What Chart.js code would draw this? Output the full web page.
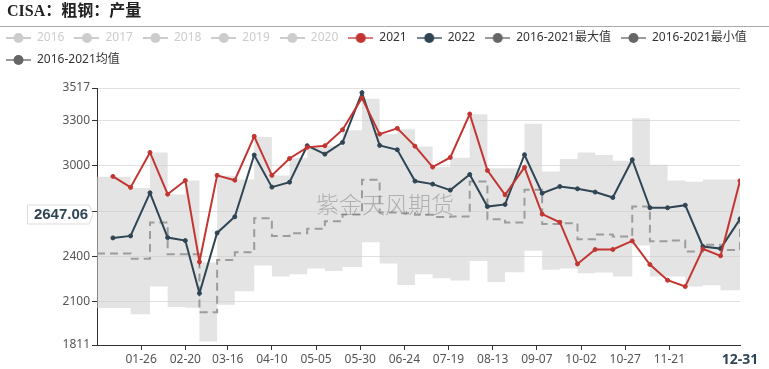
<!DOCTYPE html>
<html>
<head>
<meta charset="utf-8">
<script src="https://cdn.jsdelivr.net/npm/chart.js@4.4.1/dist/chart.umd.min.js"></script>
<style>
    body { margin: 0; background: #fff; }
</style>
</head>
<body>
<canvas id="plot-data" width="769" height="369"></canvas>
<script>
var chartTitle = 'CISA：粗钢：产量';

// dekad end dates (MM-DD)
var dates = ['01-10', '01-20', '01-31', '02-10', '02-20', '02-28', '03-10', '03-20', '03-31',
    '04-10', '04-20', '04-30', '05-10', '05-20', '05-31', '06-10', '06-20', '06-30',
    '07-10', '07-20', '07-31', '08-10', '08-20', '08-31', '09-10', '09-20', '09-30',
    '10-10', '10-20', '10-31', '11-10', '11-20', '11-30', '12-10', '12-20', '12-31'];

var data2021 = [2930, 2857, 3089, 2812, 2903, 2363, 2937, 2905, 3196,
    2937, 3049, 3123, 3134, 3240, 3450, 3211, 3249, 3131,
    2992, 3056, 3344, 2970, 2808, 2990, 2680, 2626, 2349,
    2445, 2445, 2502, 2345, 2241, 2199, 2449, 2403, 2901];

var data2022 = [2522, 2535, 2821, 2524, 2504, 2154, 2555, 2662, 3072,
    2859, 2892, 3134, 3078, 3156, 3486, 3136, 3107, 2899,
    2879, 2839, 2943, 2730, 2744, 3074, 2819, 2863, 2848,
    2826, 2790, 3041, 2722, 2722, 2739, 2465, 2451, 2647];

var dataMax = [2928, 2854, 3089, 2810, 2903, 2358, 2934, 2910, 3191,
    2936, 3052, 3122, 3134, 3236, 3446, 3211, 3244, 3129,
    2992, 3054, 3342, 2985, 2985, 3280, 2963, 3045, 3089,
    3072, 3034, 3317, 3007, 2903, 2894, 2910, 2910, 3151];

var dataMin = [2057, 2015, 2199, 2064, 2059, 1835, 2079, 2168, 2338,
    2265, 2281, 2318, 2303, 2329, 2493, 2352, 2210, 2281,
    2254, 2239, 2369, 2230, 2294, 2436, 2310, 2318, 2287,
    2292, 2265, 2471, 2265, 2265, 2199, 2208, 2174, 2180];

var dataMean = [2418, 2383, 2624, 2414, 2414, 2028, 2376, 2427, 2653,
    2535, 2553, 2582, 2633, 2677, 2908, 2690, 2686, 2675,
    2660, 2664, 2897, 2646, 2624, 2841, 2615, 2620, 2513,
    2544, 2531, 2730, 2500, 2504, 2431, 2476, 2442, 2697];

var tickLabels = ['01-26', '02-20', '03-16', '04-10', '05-05', '05-30', '06-24',
    '07-19', '08-13', '09-07', '10-02', '10-27', '11-21', '12-31'];
var yTicks = [1811, 2100, 2400, 2700, 3000, 3300, 3517];

var legendNames = ['2016', '2017', '2018', '2019', '2020', '2021', '2022',
    '2016-2021最大值', '2016-2021最小值', '2016-2021均值'];
var legendColors = ['#ccc', '#ccc', '#ccc', '#ccc', '#ccc', '#c23531', '#2f4554', '#666', '#666', '#666'];
var legendOff = [true, true, true, true, true, false, false, false, false, false];

var pointerText = '2647.06';
var pointerAt = 2682;
var watermark = '紫金天风期货';

function dayOf(md) {
    var p = md.split('-');
    return (Date.UTC(2022, p[0] - 1, +p[1]) - Date.UTC(2022, 0, 1)) / 86400000;
}

function dayLabel(d) {
    var t = new Date(Date.UTC(2022, 0, 1) + d * 86400000);
    var m = t.getUTCMonth() + 1, dd = t.getUTCDate();
    return (m < 10 ? '0' : '') + m + '-' + (dd < 10 ? '0' : '') + dd;
}

function toPoints(values) {
    return values.map(function(v, i) { return {x: dayOf(dates[i]), y: v}; });
}

// each dekad value held over the next interval, first one from Jan 1
function toSteps(values) {
    var pts = toPoints(values);
    pts.unshift({x: 0, y: values[0]});
    return pts;
}

function legendIcon(color, off) {
    var c = document.createElement('canvas');
    c.width = 25;
    c.height = 12;
    var g = c.getContext('2d');
    g.strokeStyle = color;
    g.globalAlpha = off ? 1 : 0.65;
    g.lineWidth = 2;
    g.beginPath();
    g.moveTo(0, 6);
    g.lineTo(25, 6);
    g.stroke();
    g.globalAlpha = 1;
    g.fillStyle = color;
    g.beginPath();
    g.arc(12.5, 6, 5, 0, Math.PI * 2);
    g.fill();
    return c;
}

var legendItems = legendNames.map(function(name, i) {
    return {
        text: name,
        fontColor: legendOff[i] ? '#ccc' : '#333',
        pointStyle: legendIcon(legendColors[i], legendOff[i]),
        hidden: false,
        lineWidth: 0
    };
});

var isLast = function(c) { return c.index === tickLabels.length - 1; };

var frame = {
    id: 'frame',
    beforeDraw: function(chart) {
        var c = chart.ctx;
        c.save();
        c.fillStyle = '#fff';
        c.fillRect(0, 0, chart.width, chart.height);
        c.font = 'bold 16px "Liberation Serif", "Noto Sans CJK SC", serif';
        c.fillStyle = '#222';
        c.textBaseline = 'middle';
        c.fillText(chartTitle, 7, 12);
        c.strokeStyle = '#aaa';
        c.lineWidth = 1;
        c.beginPath();
        c.moveTo(0, 26.5);
        c.lineTo(chart.width, 26.5);
        c.stroke();
        c.restore();
    },
    afterDatasetsDraw: function(chart) {
        var c = chart.ctx;
        c.save();
        c.font = '300 23px "Noto Sans CJK SC", sans-serif';
        c.fillStyle = 'rgba(110,110,110,0.45)';
        c.textAlign = 'center';
        c.textBaseline = 'middle';
        c.fillText(watermark, 385, 204);
        c.restore();
    },
    afterDraw: function(chart) {
        var c = chart.ctx;
        var y = Math.round(chart.scales.y.getPixelForValue(pointerAt)) + 0.5;
        var r = chart.chartArea.left - 8;
        c.save();
        c.beginPath();
        c.moveTo(27.5, y - 9.5);
        c.lineTo(r, y - 9.5);
        c.lineTo(r + 4, y);
        c.lineTo(r, y + 9.5);
        c.lineTo(27.5, y + 9.5);
        c.closePath();
        c.fillStyle = '#fff';
        c.fill();
        c.strokeStyle = '#ddd';
        c.lineWidth = 1;
        c.stroke();
        c.font = 'bold 15px "Liberation Sans", sans-serif';
        c.fillStyle = '#2f4554';
        c.textAlign = 'center';
        c.textBaseline = 'middle';
        c.fillText(pointerText, 61, y + 0.5);
        c.restore();
    }
};

Chart.defaults.font.family = '"Noto Sans", "Noto Sans CJK SC", sans-serif';

var ctx = document.getElementById('plot-data').getContext('2d');
var chart = new Chart(ctx, {
    type: 'line',
    data: {
        datasets: [{
            label: '2021',
            data: toPoints(data2021),
            borderColor: '#c23531',
            backgroundColor: '#c23531',
            borderWidth: 2,
            pointRadius: 2,
            pointBorderWidth: 1,
            fill: false
        }, {
            label: '2022',
            data: toPoints(data2022),
            borderColor: '#2f4554',
            backgroundColor: '#2f4554',
            borderWidth: 2,
            pointRadius: 2,
            pointBorderWidth: 1,
            fill: false
        }, {
            label: '2016-2021均值',
            data: toSteps(dataMean),
            stepped: 'before',
            borderColor: '#9c9c9c',
            borderWidth: 2,
            borderDash: [8, 5],
            pointRadius: 0,
            fill: false
        }, {
            label: '2016-2021最大值',
            data: toSteps(dataMax),
            stepped: 'before',
            borderWidth: 0,
            borderColor: 'rgba(0,0,0,0)',
            backgroundColor: 'rgba(205,205,205,0.55)',
            pointRadius: 0,
            fill: '+1'
        }, {
            label: '2016-2021最小值',
            data: toSteps(dataMin),
            stepped: 'before',
            borderWidth: 0,
            borderColor: 'rgba(0,0,0,0)',
            pointRadius: 0,
            fill: false
        }]
    },
    options: {
        responsive: false,
        animation: false,
        layout: {
            padding: {left: -4, top: 22, right: 0, bottom: 0}
        },
        plugins: {
            legend: {
                position: 'top',
                align: 'start',
                onClick: null,
                labels: {
                    usePointStyle: true,
                    pointStyleWidth: 25,
                    padding: 10,
                    font: {size: 12},
                    generateLabels: function() { return legendItems; }
                }
            },
            tooltip: {enabled: false}
        },
        scales: {
            x: {
                type: 'linear',
                min: 0,
                max: 364,
                afterBuildTicks: function(s) {
                    s.ticks = tickLabels.map(function(t) { return {value: dayOf(t)}; });
                },
                afterFit: function(s) { s.height = 24; },
                grid: {
                    drawOnChartArea: false,
                    tickLength: 5,
                    tickColor: function(c) { return isLast(c) ? 'rgba(0,0,0,0)' : '#333'; }
                },
                border: {color: '#333'},
                ticks: {
                    autoSkip: false,
                    maxRotation: 0,
                    padding: 2,
                    color: function(c) { return isLast(c) ? '#2f4554' : '#555'; },
                    font: function(c) { return isLast(c) ? {size: 14, weight: 'bold'} : {size: 12}; },
                    callback: function(v) { return dayLabel(v); }
                }
            },
            y: {
                min: 1811,
                max: 3517,
                afterBuildTicks: function(s) {
                    s.ticks = yTicks.map(function(v) { return {value: v}; });
                },
                afterFit: function(s) { s.width = 101; },
                grid: {color: '#e0e0e0', tickLength: 5, tickColor: '#333'},
                border: {color: '#333'},
                ticks: {
                    color: '#555',
                    padding: 2,
                    font: {size: 12},
                    callback: function(v) { return String(v); }
                }
            },
            xTop: {
                type: 'linear',
                position: 'top',
                ticks: {display: false},
                grid: {display: false},
                border: {display: false},
                afterFit: function(s) { s.height = 12; }
            },
            yRight: {
                type: 'linear',
                position: 'right',
                ticks: {display: false},
                grid: {display: false},
                border: {display: false},
                afterFit: function(s) { s.width = 29; }
            }
        }
    },
    plugins: [frame]
});
</script>
</body>
</html>
